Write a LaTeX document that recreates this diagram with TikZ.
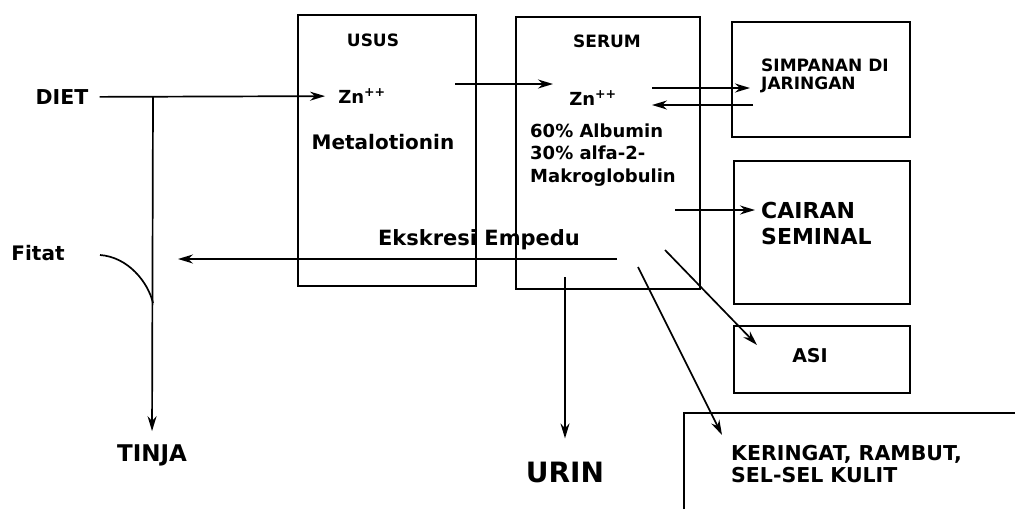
\documentclass[tikz,border=0pt]{standalone}
\usepackage{fontspec}
\setmainfont{DejaVu Sans}
\usepackage{tikz}
\usetikzlibrary{arrows.meta, positioning, calc}

\tikzset{
    box/.style={draw, line width=1.9pt, anchor=north west, inner sep=0pt},
    txt/.style n args={2}{font=\bfseries\fontsize{#1}{#2}\selectfont, inner sep=1pt, align=left},
    flow/.style={line width=1.7pt, -{Stealth[length=15pt,width=9pt]}},
    wire/.style={line width=1.7pt}
}

\begin{document}
\begin{tikzpicture}[x=1pt, y=-1pt]
    \useasboundingbox (0,0) rectangle (1015,509);
    % Compartments
    \node[box, minimum width=178pt, minimum height=271pt] (usus) at (297,14) {};
    \node[box, minimum width=184pt, minimum height=272pt] (serum) at (515,16) {};
    \node[box, minimum width=178pt, minimum height=115pt] (simpanan) at (731,21) {};
    \node[box, minimum width=176pt, minimum height=143pt] (cairan) at (733,160) {};
    \node[box, minimum width=176pt, minimum height=67pt] (asi) at (733,325) {};
    \draw[wire, line width=1.9pt] (684,509) |- (1015,413);
    % Labels
    \node[txt={20.5}{24}] (diet) at (62,97) {DIET};
    \node[txt={20}{24}] (fitat) at (38,253) {Fitat};
    \node[txt={23}{27}] (tinja) at (152,455) {TINJA};
    \node[txt={17}{20}] (ususlbl) at (373,40) {USUS};
    \node[txt={18}{22}] (znusus) at (362,96) {Zn\textsuperscript{++}};
    \node[txt={20}{24}] (metal) at (383,142) {Metalotionin};
    \node[txt={17}{20}] (serumlbl) at (607,41) {SERUM};
    \node[txt={18}{22}] (znserum) at (593,98) {Zn\textsuperscript{++}};
    \node[txt={18}{22.5}, anchor=west] (albumin) at (529,155)
        {60\% Albumin\\30\% alfa-2-\\Makroglobulin};
    \node[txt={17}{17.5}, anchor=west] (simpananlbl) at (760,76) {SIMPANAN DI\\JARINGAN};
    \node[txt={22}{26}, anchor=west] (cairanlbl) at (760,223) {CAIRAN\\SEMINAL};
    \node[txt={19}{22}] (asilbl) at (810,356) {ASI};
    \node[txt={21}{25}] (ekskresi) at (479,240) {Ekskresi Empedu};
    \node[txt={28}{32}] (urin) at (565,472) {URIN};
    \node[txt={20.5}{22}, anchor=west] (keringat) at (730,464)
        {KERINGAT, RAMBUT,\\SEL-SEL KULIT};
    % Route points
    \coordinate (split) at (153,97);
    \coordinate (fitatA) at (100,255);
    \coordinate (fitatB) at (153,303);
    \coordinate (bileR) at (617,259);
    \coordinate (bileL) at (178,259);
    \coordinate (zA) at (455,84);
    \coordinate (zB) at (553,84);
    \coordinate (sA) at (652,88);
    \coordinate (sB) at (750,88);
    \coordinate (tA) at (753,105);
    \coordinate (tB) at (652,105);
    \coordinate (cA) at (675,210);
    \coordinate (cB) at (755,210);
    \coordinate (aA) at (665,250);
    \coordinate (aB) at (757,345);
    \coordinate (kA) at (638,267);
    \coordinate (kB) at (722,435);
    \coordinate (uA) at (565,277);
    % Flows
    \draw[flow, shorten <=10pt, shorten >=12pt] (diet) -- (znusus);
    \draw[flow, shorten >=12pt] (split) -- (tinja.north);
    \draw[wire] (fitatA) .. controls (128,257) and (148,282) .. (fitatB);
    \draw[flow] (zA) -- (zB);
    \draw[flow] (sA) -- (sB);
    \draw[flow] (tA) -- (tB);
    \draw[flow] (cA) -- (cB);
    \draw[flow] (aA) -- (aB);
    \draw[flow] (kA) -- (kB);
    \draw[flow] (bileR) -- (bileL);
    \draw[flow, shorten >=22pt] (uA) -- (urin.north);
\end{tikzpicture}
\end{document}
